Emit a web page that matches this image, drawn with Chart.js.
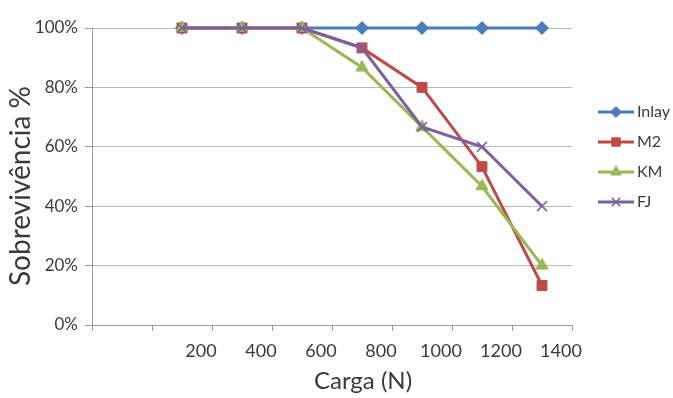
<!DOCTYPE html>
<html>
<head>
<meta charset="utf-8">
<script src="https://cdn.jsdelivr.net/npm/chart.js@4.4.1/dist/chart.umd.min.js"></script>
<style>
  html, body { margin: 0; padding: 0; background: #fff; }
  #wrap { width: 673px; height: 398px; position: relative; }
</style>
</head>
<body>
<div id="wrap"><canvas id="c"></canvas></div>
<script>
// categorias do eixo x (a primeira fica vazia, como no Excel)
var cargas = ['', '200', '400', '600', '800', '1000', '1200', '1400'];
var ticksY = [0, 20, 40, 60, 80, 100];

var inlay = [null, 100, 100, 100, 100, 100, 100, 100];
var m2    = [null, 100, 100, 100, 93.3, 80, 53.3, 13.3];
var km    = [null, 100, 100, 100, 86.7, 66.7, 46.7, 20];
var fj    = [null, 100, 100, 100, 93.3, 66.7, 60, 40];

var FONT = "Lato, 'Open Sans', sans-serif";
var INK = '#3a3a3a', GRID = '#b8b8b8', AXIS = '#9a9a9a';

function serie(label, data, color, style, radius, order) {
  return {
    label: label, data: data, borderColor: color, backgroundColor: color,
    borderWidth: 3, pointStyle: style, pointRadius: radius, pointHoverRadius: radius,
    pointBorderColor: color, pointBackgroundColor: color,
    pointBorderWidth: style === 'crossRot' ? 1.6 : 1,
    tension: 0, spanGaps: false, clip: false, order: order
  };
}

// legenda à direita (linha + marcador como no Excel) e títulos dos eixos
var legendaExcel = {
  id: 'legendaExcel',
  afterDraw: function (chart) {
    var ctx = chart.ctx;
    var y0 = 112, dy = 30, x0 = 598, x1 = 634;
    chart.data.datasets.forEach(function (ds, i) {
      var y = y0 + i * dy;
      ctx.save();
      ctx.strokeStyle = ds.borderColor; ctx.lineWidth = 3;
      ctx.beginPath(); ctx.moveTo(x0, y); ctx.lineTo(x1, y); ctx.stroke();
      ctx.fillStyle = ds.borderColor; ctx.strokeStyle = ds.borderColor;
      ctx.lineWidth = ds.pointBorderWidth;
      Chart.helpers.drawPoint(ctx, { pointStyle: ds.pointStyle, radius: ds.pointRadius * 0.85, rotation: 0, borderWidth: ds.pointBorderWidth }, (x0 + x1) / 2, y);
      ctx.fillStyle = INK; ctx.font = '16px ' + FONT;
      ctx.textBaseline = 'middle'; ctx.textAlign = 'left';
      ctx.fillText(ds.label, x1 + 3, y);
      ctx.restore();
    });
    ctx.save();
    ctx.fillStyle = INK; ctx.font = '24px ' + FONT;
    ctx.textAlign = 'center'; ctx.textBaseline = 'middle';
    ctx.fillText('Carga (N)', 363, 381);
    ctx.translate(21, 186); ctx.rotate(-Math.PI / 2);
    ctx.font = '28px ' + FONT;
    ctx.fillText('Sobrevivência %', 0, 0);
    ctx.restore();
  }
};

new Chart(document.getElementById('c'), {
  type: 'line',
  data: {
    labels: cargas,
    datasets: [
      serie('Inlay', inlay, '#4a7ebb', 'rectRot', 6.5, 4),
      serie('M2', m2, '#be4b48', 'rect', 7, 3),
      serie('KM', km, '#98b954', 'triangle', 7, 2),
      serie('FJ', fj, '#7d60a0', 'crossRot', 7, 1)
    ]
  },
  options: {
    responsive: true, maintainAspectRatio: false, animation: false,
    layout: { padding: { top: 28, right: 101, left: 0, bottom: 0 } },
    plugins: { legend: { display: false }, tooltip: { enabled: false } },
    scales: {
      x: {
        type: 'category', offset: true,
        grid: { offset: true, drawOnChartArea: false, drawTicks: true, tickLength: 6, color: AXIS },
        border: { color: AXIS, width: 1 },
        ticks: { color: INK, font: { family: FONT, size: 18 }, padding: 9, labelOffset: 19, maxRotation: 0, autoSkip: false },
        afterFit: function (s) { s.height = 73; }
      },
      y: {
        min: 0, max: 100,
        afterBuildTicks: function (s) { s.ticks = ticksY.map(function (v) { return { value: v }; }); },
        grid: { color: GRID, tickLength: 7, tickColor: AXIS },
        border: { color: AXIS, width: 1 },
        ticks: { color: INK, font: { family: FONT, size: 17 }, padding: 7, callback: function (v) { return v + '%'; } },
        afterFit: function (s) { s.width = 92; }
      }
    }
  },
  plugins: [legendaExcel]
});
</script>
</body>
</html>
